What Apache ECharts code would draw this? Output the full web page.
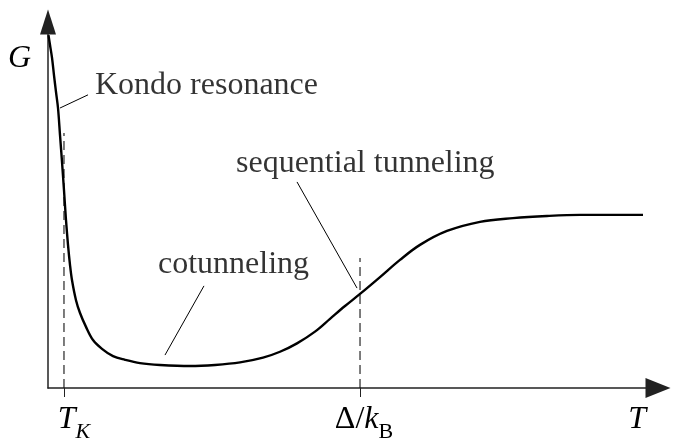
<!DOCTYPE html>
<html><head><meta charset="utf-8">
<script src="https://cdn.jsdelivr.net/npm/echarts@6/dist/echarts.min.js"></script>
<style>html,body{margin:0;padding:0;background:#fff}#c{width:693px;height:447px}</style>
</head><body><div id="c"></div>
<script>
// Conductance G vs temperature T (arbitrary units)
const curveT = [0.08,0.33,0.66,0.98,1.31,1.64,1.97,2.30,2.62,2.95,3.28,3.61,3.93,4.59,5.25,6.23,7.38,8.85,10.66,12.62,15.08,18.36,23.28,27.38,31.48,35.25,38.03,40.82,43.77,46.23,48.69,51.15,54.43,57.70,60.98,65.41,70.82,76.23,81.80,87.21,92.62,97.54];
const curveG = [96.4,93.7,90.2,85.5,80.9,76.5,69.1,61.7,54.1,45.9,39.1,33.6,29.5,24.0,20.5,16.7,13.1,10.7,8.7,7.7,6.8,6.3,6.0,6.3,7.0,8.3,9.9,12.2,15.4,18.9,22.4,25.7,30.3,35.0,39.1,42.9,45.4,46.4,47.0,47.3,47.3,47.3];

// Marked temperatures and the x tick labels
const tickValues = [2.62, 51.15];
const tickLabelValues = [2.62, 51.15, 96.6];
const tickLabels = ['TK', 'DELTA', 'T'];
const yLabelValue = 89.9;
const yLabel = 'G';

// Dashed guide lines: [T, Gtop]
const guideT = [2.62, 51.15];
const guideTop = [69.7, 35.5];

// Annotation leader lines (start / end)
const leaderT1 = [1.97, 19.18, 50.66];
const leaderG1 = [76.5, 9.0, 27.3];
const leaderT2 = [6.56, 25.57, 40.82];
const leaderG2 = [80.1, 27.9, 56.3];

// Annotation texts and their anchors (left edge, vertical middle)
const noteText = ['Kondo resonance', 'cotunneling', 'sequential tunneling'];
const noteT = [7.70, 18.03, 30.82];
const noteG = [82.5, 33.6, 61.2];

const serif = '"Liberation Serif", "DejaVu Serif", serif';
const FS = 32;
const padB = 7;

const series = [];
series.push({
  type: 'line', data: curveT.map((t, i) => [t, curveG[i]]),
  showSymbol: false, symbol: 'none', smooth: 0.35,
  lineStyle: { color: '#000', width: 2.4 }, silent: true, z: 5
});
guideT.forEach((t, i) => series.push({
  type: 'line', data: [[t, 0], [t, guideTop[i]]], symbol: 'none',
  lineStyle: { color: '#111', width: 1.1, type: [9, 5] }, silent: true, z: 3
}));
leaderT1.forEach((t, i) => series.push({
  type: 'line', data: [[t, leaderG1[i]], [leaderT2[i], leaderG2[i]]], symbol: 'none',
  lineStyle: { color: '#000', width: 1 }, silent: true, z: 4
}));
series.push({
  type: 'scatter', symbolSize: 0, silent: true,
  data: noteText.map((s, i) => ({ value: [noteT[i], noteG[i]], name: s })),
  label: {
    show: true, position: [0, 0], align: 'left', verticalAlign: 'middle',
    formatter: p => p.name, fontFamily: serif, fontSize: FS, color: '#000'
  }
});

const rich = {
  i: { fontFamily: serif, fontStyle: 'italic', fontSize: FS, lineHeight: FS, padding: [0, 0, padB, 0], verticalAlign: 'bottom', color: '#000' },
  iL: { fontFamily: serif, fontStyle: 'italic', fontSize: FS, lineHeight: FS, padding: [0, 0, padB, 20], verticalAlign: 'bottom', color: '#000' },
  m: { fontFamily: serif, fontSize: FS, lineHeight: FS, padding: [0, 0, padB, 8], verticalAlign: 'bottom', color: '#000' },
  si: { fontFamily: serif, fontStyle: 'italic', fontSize: 22, lineHeight: 22, verticalAlign: 'bottom', color: '#000' },
  s: { fontFamily: serif, fontSize: 22, lineHeight: 22, verticalAlign: 'bottom', color: '#000' }
};

const option = {
  animation: false,
  backgroundColor: '#fff',
  grid: { left: 48, right: 35, top: 22, bottom: 59 },
  xAxis: {
    type: 'value', min: 0, max: 100,
    axisLine: { lineStyle: { color: '#222', width: 1.5 }, symbol: ['none', 'triangle'], symbolSize: [20, 25] },
    axisTick: { show: true, customValues: tickValues, length: 9, lineStyle: { color: '#222', width: 1 } },
    axisLabel: {
      customValues: tickLabelValues, margin: 23, rich: rich,
      formatter: v => {
        const k = tickLabels[tickLabelValues.indexOf(v)];
        if (k === 'TK') return '{iL|T}{si|K}';
        if (k === 'DELTA') return '{m|\u0394/}{i|k}{s|B}';
        return '{i|T}';
      }
    },
    splitLine: { show: false }
  },
  yAxis: {
    type: 'value', min: 0, max: 100,
    axisLine: { show: true, lineStyle: { color: '#222', width: 1.5 }, symbol: ['none', 'triangle'], symbolSize: [16, 25] },
    axisTick: { show: false },
    axisLabel: {
      customValues: [yLabelValue], margin: 17,
      formatter: () => yLabel, fontFamily: serif, fontStyle: 'italic', fontSize: FS, color: '#000'
    },
    splitLine: { show: false }
  },
  series: series
};
const chart = echarts.init(document.getElementById('c'), null, { renderer: 'canvas' });
chart.setOption(option);
</script></body></html>
